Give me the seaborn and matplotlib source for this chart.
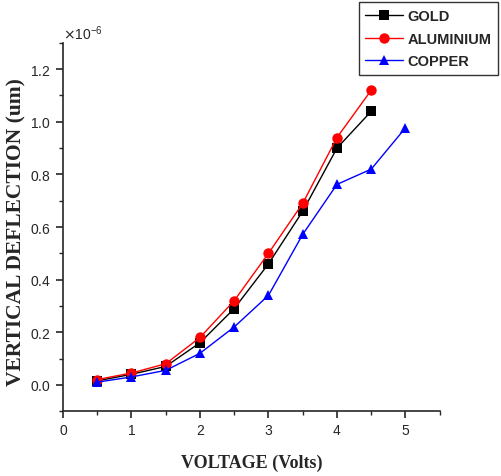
import numpy as np
import pandas as pd
import matplotlib
matplotlib.use("Agg")
import matplotlib.pyplot as plt
import seaborn as sns
from matplotlib.ticker import MultipleLocator, ScalarFormatter
from matplotlib.lines import Line2D

voltage_gold = [0.5, 1.0, 1.5, 2.0, 2.5, 3.0, 3.5, 4.0, 4.5]
gold = [0.015, 0.040, 0.070, 0.160, 0.290, 0.460, 0.660, 0.900, 1.040]
voltage_al = [0.5, 1.0, 1.5, 2.0, 2.5, 3.0, 3.5, 4.0, 4.5]
aluminium = [0.020, 0.045, 0.080, 0.180, 0.320, 0.500, 0.690, 0.940, 1.120]
voltage_cu = [0.5, 1.0, 1.5, 2.0, 2.5, 3.0, 3.5, 4.0, 4.5, 5.0]
copper = [0.010, 0.030, 0.055, 0.120, 0.220, 0.340, 0.572, 0.762, 0.820, 0.977]
scale = 1e-6

df = pd.concat([
    pd.DataFrame({"V": voltage_gold, "D": np.array(gold) * scale, "M": "GOLD"}),
    pd.DataFrame({"V": voltage_al, "D": np.array(aluminium) * scale, "M": "ALUMINIUM"}),
    pd.DataFrame({"V": voltage_cu, "D": np.array(copper) * scale, "M": "COPPER"}),
])

sns.set_style("ticks")
plt.rcParams["font.family"] = ["Liberation Sans", "DejaVu Sans"]

fig = plt.figure(figsize=(5.01, 4.77), dpi=100)
ax = fig.add_axes([0.1257, 0.136, 0.752, 0.772])

palette = {"GOLD": "black", "ALUMINIUM": "red", "COPPER": "blue"}
markers = {"GOLD": "s", "ALUMINIUM": "o", "COPPER": "^"}
sns.lineplot(data=df, x="V", y="D", hue="M", style="M", palette=palette,
             markers=markers, dashes=False, markersize=7.5, markeredgewidth=0,
             linewidth=1, ax=ax, legend=False)

ax.set_xlim(0, 5.5)
ax.set_ylim(-0.1e-6, 1.3e-6)
ax.xaxis.set_major_locator(MultipleLocator(1))
ax.xaxis.set_minor_locator(MultipleLocator(0.5))
ax.yaxis.set_major_locator(MultipleLocator(0.2e-6))
ax.yaxis.set_minor_locator(MultipleLocator(0.1e-6))
fmt = ScalarFormatter(useMathText=True)
fmt.set_powerlimits((0, 0))
ax.yaxis.set_major_formatter(fmt)
ax.yaxis.get_offset_text().set_fontsize(10)

for s in ["top", "right"]:
    ax.spines[s].set_visible(False)
for s in ["left", "bottom"]:
    ax.spines[s].set_linewidth(1.2)
ax.tick_params(which="major", direction="out", length=5, width=1.2, labelsize=10)
ax.tick_params(which="minor", direction="out", length=3, width=1.0)

ax.set_xlabel("VOLTAGE (Volts)", fontfamily="Liberation Serif", fontweight="bold",
              fontsize=13, labelpad=12)
ax.set_ylabel("VERTICAL DEFLECTION (um)", fontfamily="Liberation Serif",
              fontweight="bold", fontsize=15.5)
ax.yaxis.set_label_coords(-0.098, 0.49)

handles = [Line2D([], [], color=palette[k], marker=markers[k], markersize=7.5,
                  markeredgewidth=0, linewidth=1) for k in ["GOLD", "ALUMINIUM", "COPPER"]]
leg = fig.legend(handles, ["GOLD", "ALUMINIUM", "COPPER"], loc="upper right",
                 bbox_to_anchor=(0.994, 0.993), frameon=True, fancybox=False,
                 edgecolor="black", prop={"weight": "bold", "size": 10.5},
                 handlelength=2.6, borderpad=0.45, labelspacing=0.6, handletextpad=0.3,
                 borderaxespad=0)
leg.get_frame().set_linewidth(1.0)

fig.savefig("out.png", dpi=100)
